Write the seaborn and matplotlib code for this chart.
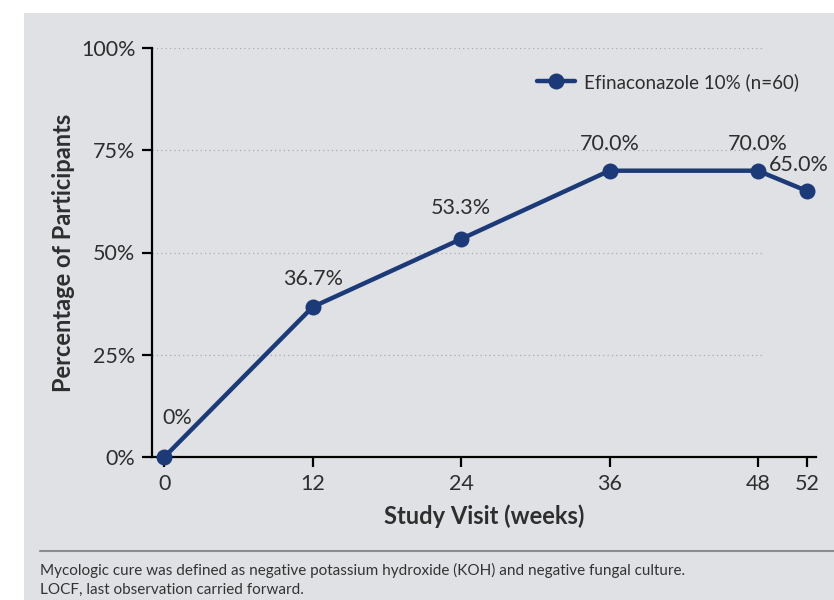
import numpy as np
import pandas as pd
import matplotlib.pyplot as plt
import seaborn as sns
from matplotlib.patches import Rectangle
from matplotlib.lines import Line2D

weeks = [0, 12, 24, 36, 48, 52]
cure_pct = [0.0, 36.7, 53.3, 70.0, 70.0, 65.0]
labels = ['0%', '36.7%', '53.3%', '70.0%', '70.0%', '65.0%']
label_offsets = [(9, 28), (0, 20), (0, 22), (0, 19), (0, 19), (-6, 19)]
series_name = 'Efinaconazole 10% (n=60)'

navy = '#1c3a78'
bg = '#dfe1e4'
txt = '#2e2e2e'

sns.set_theme(style='white')
plt.rcParams['font.family'] = ['Lato', 'DejaVu Sans']

df = pd.DataFrame({'week': weeks, 'pct': cure_pct})

fig = plt.figure(figsize=(8.34, 6), dpi=100)
fig.patch.set_facecolor('white')
fig.patches.append(Rectangle((24 / 834, 0), 1, 1 - 13 / 600, transform=fig.transFigure,
                             facecolor=bg, edgecolor='none', zorder=-10))

ax = fig.add_axes([152 / 834, 143 / 600, (816 - 152) / 834, (457 - 48) / 600])
ax.set_facecolor('none')
ax.set_zorder(2)

sns.lineplot(data=df, x='week', y='pct', ax=ax, color=navy, linewidth=3.2,
             marker='o', markersize=11.5, markeredgewidth=0, clip_on=False, zorder=5)

for w, p, lab, off in zip(weeks, cure_pct, labels, label_offsets):
    ax.annotate(lab, (w, p), xytext=off, textcoords='offset points', ha='center', va='center',
                fontsize=15.5, color=txt, annotation_clip=False)

ax.set_xlim(-1, 52.7)
ax.set_ylim(0, 100)
ax.set_xticks(weeks)
ax.set_yticks([0, 25, 50, 75, 100])
ax.set_yticklabels(['0%', '25%', '50%', '75%', '100%'])
ax.tick_params(axis='both', labelsize=15.5, colors=txt, length=7, width=1.6,
               direction='out', left=True, bottom=True, pad=5)
ax.tick_params(axis='both', color='black')

for y in [25, 50, 75, 100]:
    ax.plot([-1, 48.5], [y, y], ls=(0, (1, 2.5)), color='#a8aaad', lw=0.9, zorder=1)

for s in ['top', 'right']:
    ax.spines[s].set_visible(False)
for s in ['left', 'bottom']:
    ax.spines[s].set_linewidth(1.6)
    ax.spines[s].set_color('black')

ax.set_xlabel('Study Visit (weeks)', fontsize=17, fontweight='bold', color=txt, labelpad=8)
ax.set_ylabel('Percentage of Participants', fontsize=17, fontweight='bold', color=txt, labelpad=4)

handle = Line2D([], [], color=navy, lw=3.2, marker='o', markersize=11.5, markeredgewidth=0)
ax.legend([handle], [series_name], loc='upper right', bbox_to_anchor=(1.0, 0.98), frameon=False,
          fontsize=13.5, handlelength=2.0, handletextpad=0.5, labelcolor=txt)

fig.add_artist(Line2D([40 / 834, 1], [1 - 551 / 600, 1 - 551 / 600], transform=fig.transFigure,
                      color='#8a8c8f', lw=1.5))
fig.text(40 / 834, 1 - 570 / 600,
         'Mycologic cure was defined as negative potassium hydroxide (KOH) and negative fungal culture.',
         fontsize=11, color='#333333', va='center')
fig.text(40 / 834, 1 - 590 / 600, 'LOCF, last observation carried forward.',
         fontsize=11, color='#333333', va='center')

fig.savefig('out.png', dpi=100, facecolor=fig.get_facecolor())
